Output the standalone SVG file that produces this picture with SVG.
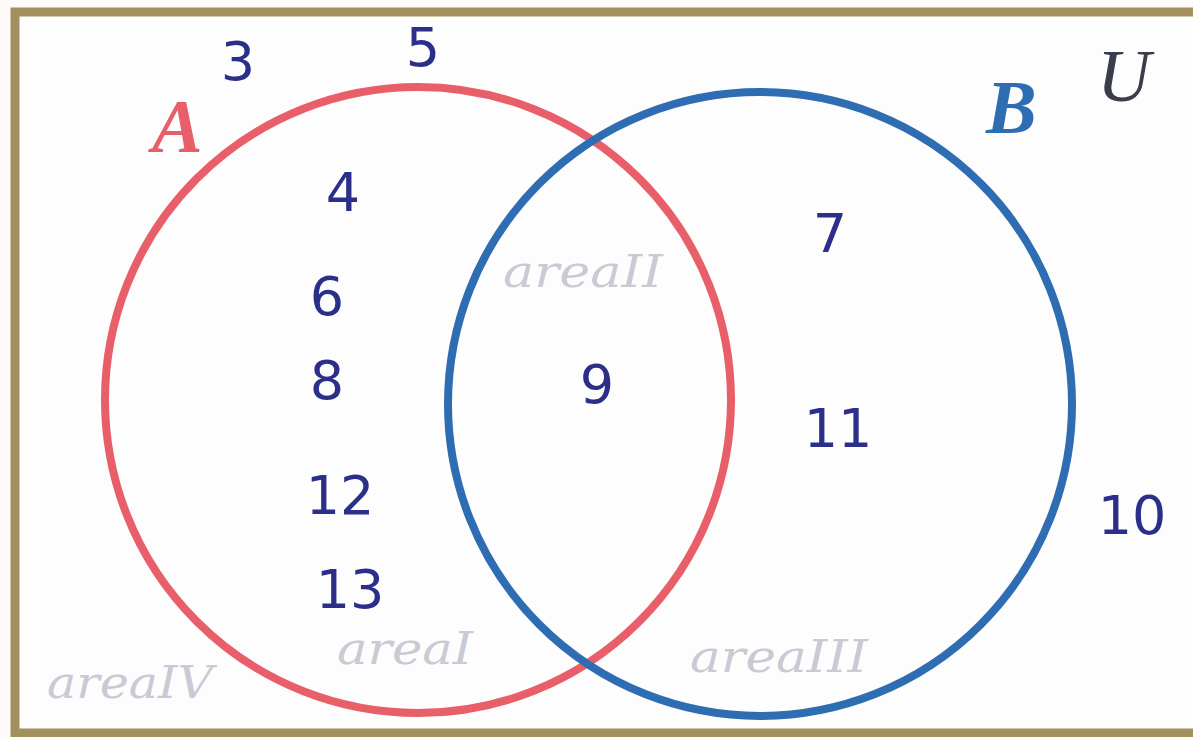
<svg xmlns="http://www.w3.org/2000/svg" width="1193" height="737" viewBox="0 0 1193 737">
<style>
.num{font-family:"DejaVu Sans","Liberation Sans",sans-serif;font-size:54px;fill:#2b2f8a;text-anchor:middle}
.area{font-family:"DejaVu Serif","Liberation Serif",serif;font-style:italic;font-size:45px;fill:#c9cad3}
.set{font-family:"Liberation Serif","DejaVu Serif",serif;font-style:italic;font-weight:bold;font-size:76px}
</style>
<rect x="0" y="0" width="1193" height="737" fill="#fcfbfa"/>
<g id="frame">
<rect x="15" y="12" width="1200" height="721" fill="#fdfdfe" stroke="#a3905e" stroke-width="9"/>
</g>
<g id="setA">
<ellipse cx="418" cy="400" rx="313" ry="313" fill="none" stroke="#e95f69" stroke-width="8"/>
<text class="set" x="152" y="152" fill="#e95f69">A</text>
</g>
<g id="setB">
<ellipse cx="760" cy="404" rx="312" ry="312" fill="none" stroke="#2f6db3" stroke-width="8"/>
<text class="set" x="986" y="133" fill="#2f6db3">B</text>
</g>
<g id="universe">
<text x="1097" y="101" font-family="Liberation Serif,DejaVu Serif,serif" font-style="italic" font-size="74" fill="#3a3d4a">U</text>
</g>
<g id="areas">
<text class="area" x="503" y="287" textLength="160" lengthAdjust="spacingAndGlyphs">areaII</text>
<text class="area" x="337" y="664" textLength="136" lengthAdjust="spacingAndGlyphs">areaI</text>
<text class="area" x="690" y="672" textLength="178" lengthAdjust="spacingAndGlyphs">areaIII</text>
<text class="area" x="47" y="698" textLength="166" lengthAdjust="spacingAndGlyphs">areaIV</text>
</g>
<g id="elements">
<text class="num" x="238" y="80">3</text>
<text class="num" x="423" y="66">5</text>
<text class="num" x="343" y="211">4</text>
<text class="num" x="327" y="315">6</text>
<text class="num" x="327" y="399">8</text>
<text class="num" x="340" y="514">12</text>
<text class="num" x="350" y="608">13</text>
<text class="num" x="597" y="403">9</text>
<text class="num" x="830" y="252">7</text>
<text class="num" x="838" y="447">11</text>
<text class="num" x="1132" y="534">10</text>
</g>
</svg>
